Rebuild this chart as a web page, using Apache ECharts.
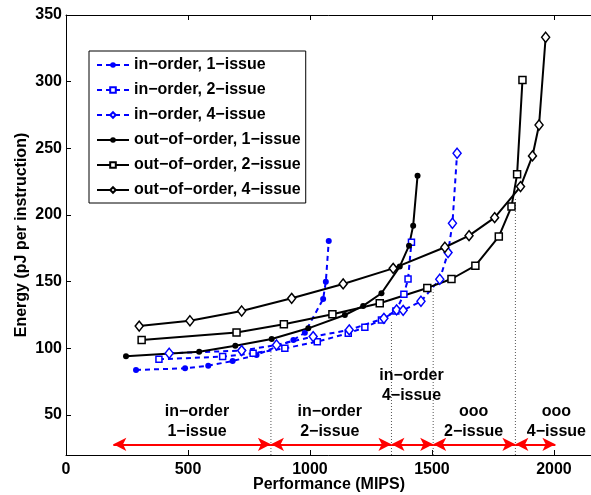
<!DOCTYPE html>
<html><head><meta charset="utf-8">
<script src="https://cdn.jsdelivr.net/npm/echarts@6/dist/echarts.min.js"></script>
<style>html,body{margin:0;padding:0;background:#fff}#c{width:591px;height:495px}</style>
</head><body><div id="c"></div>
<script>
const xTicks = [0, 500, 1000, 1500, 2000];
const yTicks = [50, 100, 150, 200, 250, 300, 350];

const seriesNames = ['in−order, 1−issue','in−order, 2−issue','in−order, 4−issue','out−of−order, 1−issue','out−of−order, 2−issue','out−of−order, 4−issue'];

const io1X = [287, 488, 583, 683, 781, 932, 979, 1054, 1065, 1077];
const io1Y = [83.8, 85, 87, 90.5, 95, 106.3, 111.7, 137, 150, 180.5];
const io2X = [381, 642, 767, 897, 1030, 1157, 1225, 1293, 1352, 1385, 1402, 1416];
const io2Y = [91.8, 93.8, 96.3, 100, 105, 111.3, 115.8, 121.3, 128, 140.5, 152, 179.5];
const io4X = [423, 720, 863, 1013, 1161, 1303, 1355, 1382, 1455, 1532, 1566, 1584, 1603];
const io4Y = [96.3, 98.3, 102.5, 108.8, 113.8, 122.5, 128.8, 128.5, 135.3, 151.8, 171.8, 193.8, 246.3];
const oo1X = [246, 546, 694, 843, 993, 1143, 1218, 1293, 1368, 1406, 1423, 1441];
const oo1Y = [94, 97.5, 102, 107, 115, 125, 131.8, 141.3, 161.3, 177, 192, 229.5];
const oo2X = [310, 699, 893, 1092, 1286, 1481, 1580, 1678, 1774, 1826, 1849, 1871];
const oo2Y = [106.3, 111.8, 118, 125.5, 133.8, 145.3, 152, 162, 183.8, 206.3, 230.5, 301.3];
const oo4X = [300, 508, 720, 925, 1136, 1341, 1553, 1652, 1757, 1863, 1912, 1939, 1966];
const oo4Y = [116.7, 120.7, 128, 137.5, 148.3, 160, 175.8, 184.5, 198, 221.3, 244.3, 267.5, 333.3];

const boundaryX = [840, 1334, 1505, 1842];
const boundaryTop = [97, 121, 144, 213.5];
const arrowStops = [194, 840, 1334, 1505, 1842, 2006];
const arrowLevel = 28;
const regionNames = ['in−order\n1−issue', 'in−order\n2−issue', 'in−order\n4−issue', 'ooo\n2−issue', 'ooo\n4−issue'];
const regionX = [537, 1081, 1416, 1671, 2010];
const regionY = [45.3, 45.3, 71.9, 45.3, 45.3];

const zip = (xs, ys) => xs.map((x, i) => [x, ys[i]]);
const FONT = 'Liberation Sans, Arial, sans-serif';
const BLUE = '#0000ff';

function curve(name, xs, ys, color, symbol, size, filled, dashed) {
  return {
    name, type: 'line', data: zip(xs, ys), symbol, symbolSize: size,
    showSymbol: true, z: 5,
    lineStyle: { color, width: 2, type: dashed ? [5, 4] : 'solid' },
    itemStyle: { color: filled ? color : '#fff', borderColor: color, borderWidth: filled ? 0 : 1.5 },
    emphasis: { disabled: true }, animation: false
  };
}

const series = [
  curve(seriesNames[0], io1X, io1Y, BLUE, 'circle', 6, true, true),
  curve(seriesNames[1], io2X, io2Y, BLUE, 'rect', 6, false, true),
  curve(seriesNames[2], io4X, io4Y, BLUE, 'diamond', [8, 10], false, true),
  curve(seriesNames[3], oo1X, oo1Y, '#000', 'circle', 6, true, false),
  curve(seriesNames[4], oo2X, oo2Y, '#000', 'rect', 7, false, false),
  curve(seriesNames[5], oo4X, oo4Y, '#000', 'diamond', [8, 10], false, false)
];

boundaryX.forEach((b, i) => {
  series.push({
    type: 'line', data: [[b, 20], [b, boundaryTop[i]]], symbol: 'none', z: 1,
    lineStyle: { color: '#555', width: 1, type: [1, 2] }, silent: true, animation: false
  });
});

const arrowPairs = [];
for (let i = 0; i < arrowStops.length - 1; i++) {
  arrowPairs.push([{ coord: [arrowStops[i], arrowLevel] }, { coord: [arrowStops[i + 1], arrowLevel] }]);
}
series.push({
  type: 'line', data: [], z: 6, animation: false,
  markLine: {
    silent: true, animation: false, symbol: ['arrow', 'arrow'], symbolSize: [10, 13],
    label: { show: false }, lineStyle: { color: '#ff0000', width: 2, type: 'solid' },
    emphasis: { disabled: true }, data: arrowPairs
  }
});

series.push({
  type: 'scatter', symbolSize: 0, z: 7, animation: false, silent: true,
  itemStyle: { color: '#000', opacity: 1 },
  data: regionNames.map((n, i) => ({ name: n, value: [regionX[i], regionY[i]] })),
  label: { show: true, position: 'inside', formatter: '{b}', color: '#000', opacity: 1,
    textBorderWidth: 0, fontFamily: FONT, fontWeight: 'bold', fontSize: 16, lineHeight: 20, align: 'center' }
});

const chart = echarts.init(document.getElementById('c'), null, { renderer: 'canvas' });
chart.setOption({
  animation: false,
  backgroundColor: '#fff',
  grid: { left: 66, top: 15, width: 526, height: 440, containLabel: false, outerBoundsMode: 'none' },
  legend: {
    data: seriesNames, orient: 'vertical', left: 89, top: 51,
    itemWidth: 32, itemHeight: 7, itemGap: 9, padding: [6, 5, 5, 7],
    backgroundColor: '#fff', borderColor: '#000', borderWidth: 1,
    textStyle: { fontFamily: FONT, fontWeight: 'bold', fontSize: 16, color: '#000', lineHeight: 16 },
    selectedMode: false
  },
  xAxis: [{
    type: 'value', min: 0, max: 2156, interval: 500,
    name: 'Performance (MIPS)', nameLocation: 'middle', nameGap: 22, nameMoveOverlap: false,
    nameTextStyle: { fontFamily: FONT, fontWeight: 'bold', fontSize: 16, color: '#000' },
    axisLine: { show: true, lineStyle: { color: '#000', width: 1 } },
    axisTick: { show: true, inside: true, length: 5, lineStyle: { color: '#000' } },
    axisLabel: { fontFamily: FONT, fontWeight: 'bold', fontSize: 16, color: '#000', margin: 7,
      customValues: xTicks, formatter: v => String(v) },
    splitLine: { show: false }
  }, {
    type: 'value', min: 0, max: 2156, interval: 500, position: 'top',
    axisLine: { show: true, lineStyle: { color: '#000', width: 1 } },
    axisTick: { show: true, inside: true, length: 5, lineStyle: { color: '#000' } },
    axisLabel: { show: false }, splitLine: { show: false }
  }],
  yAxis: [{
    type: 'value', min: 20, max: 350,
    name: 'Energy (pJ per instruction)', nameLocation: 'middle', nameGap: 36, nameMoveOverlap: false,
    nameTextStyle: { fontFamily: FONT, fontWeight: 'bold', fontSize: 16, color: '#000' },
    axisLine: { show: true, lineStyle: { color: '#000', width: 1 } },
    axisTick: { show: true, inside: true, length: 5, lineStyle: { color: '#000' }, customValues: yTicks },
    axisLabel: { fontFamily: FONT, fontWeight: 'bold', fontSize: 16, color: '#000', margin: 4,
      customValues: yTicks, formatter: v => String(v) },
    splitLine: { show: false }
  }],
  series
});
</script></body></html>
